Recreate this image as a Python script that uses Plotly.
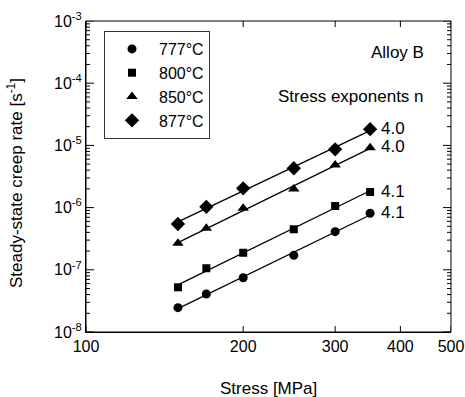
import numpy as np
import plotly.graph_objects as go

stress = [150, 170, 200, 250, 300, 350]
temps = ["777°C", "800°C", "850°C", "877°C"]
rate_777 = [2.46e-8, 4.08e-8, 7.46e-8, 1.71e-7, 4.10e-7, 8.1e-7]
rate_800 = [5.23e-8, 1.06e-7, 1.88e-7, 4.48e-7, 1.06e-6, 1.78e-6]
rate_850 = [2.67e-7, 4.65e-7, 9.75e-7, 1.99e-6, 4.84e-6, 9.2e-6]
rate_877 = [5.45e-7, 1.03e-6, 2.04e-6, 4.29e-6, 8.65e-6, 1.82e-5]
n_labels = ["4.1", "4.1", "4.0", "4.0"]
rates = [rate_777, rate_800, rate_850, rate_877]
symbols = ["circle", "square", "triangle-up", "diamond"]
msizes = [9, 8, 10, 11]

x_ticks = [100, 200, 300, 400, 500]
y_exps = [-8, -7, -6, -5, -4, -3]
minor_mult = [2, 3, 4, 5, 6, 7, 8, 9]

FONT = "Liberation Sans, Arial, sans-serif"
L, R, T, B = 86, 14, 21, 65
W, H = 465, 397
PW, PH = W - L - R, H - T - B


def px(x):
    return (x - L) / PW


def py(y):
    return (H - B - y) / PH


fig = go.Figure()

for r in rates:
    k, b = np.polyfit(np.log10(stress), np.log10(r), 1)
    xs = np.array([stress[0], stress[-1]])
    ys = 10 ** (b + k * np.log10(xs))
    fig.add_trace(go.Scatter(x=xs, y=ys, mode="lines", line=dict(color="black", width=1.3),
                             showlegend=False, hoverinfo="skip"))

for t, r, s, ms in zip(temps, rates, symbols, msizes):
    fig.add_trace(go.Scatter(x=stress, y=r, mode="markers", name=t,
                             marker=dict(symbol=s, size=ms, color="black")))

for r, lab in zip(rates, n_labels):
    fig.add_annotation(x=np.log10(stress[-1]), y=np.log10(r[-1]), text=lab, showarrow=False,
                       xanchor="left", xshift=9, yshift=1, font=dict(size=17, color="black", family=FONT))

fig.add_annotation(x=px(426), y=py(52), xref="paper", yref="paper", text="Alloy B",
                   showarrow=False, xanchor="right", yanchor="middle",
                   font=dict(size=17, color="black", family=FONT))
fig.add_annotation(x=px(276), y=py(96), xref="paper", yref="paper",
                   text="Stress exponents n", showarrow=False, xanchor="left", yanchor="middle",
                   font=dict(size=17, color="black", family=FONT))

fig.add_annotation(x=px(2), y=py(183), xref="paper", yref="paper",
                   text="Steady-state creep rate [s<sup>-1</sup>]",
                   textangle=-90, showarrow=False, xanchor="left", yanchor="middle",
                   font=dict(size=17, color="black", family=FONT))

fig.add_annotation(x=px(268), y=py(388), xref="paper", yref="paper", text="Stress [MPa]",
                   showarrow=False, xanchor="center", yanchor="middle",
                   font=dict(size=17, color="black", family=FONT))

# frame
fig.add_shape(type="rect", xref="paper", yref="paper", x0=0, x1=1, y0=0, y1=1,
              line=dict(color="black", width=1), layer="above")

TICK = dict(color="black", width=1)
major_y = [10.0 ** e for e in y_exps]
minor_y = [m * 10.0 ** e for e in range(-8, -3) for m in minor_mult]

# y ticks (left & right, inward), placed by the y scale
for v, ln in [(v, 8) for v in major_y] + [(v, 4) for v in minor_y]:
    fig.add_shape(type="line", xref="paper", yref="y", xsizemode="pixel", xanchor=0,
                  x0=0, x1=ln, y0=v, y1=v, line=TICK, layer="above")
    fig.add_shape(type="line", xref="paper", yref="y", xsizemode="pixel", xanchor=1,
                  x0=-ln, x1=0, y0=v, y1=v, line=TICK, layer="above")

# x ticks (bottom & top, inward), placed by the x scale
for v in x_ticks:
    fig.add_shape(type="line", xref="x", yref="paper", ysizemode="pixel", yanchor=0,
                  x0=v, x1=v, y0=0, y1=6, line=TICK, layer="above")
    fig.add_shape(type="line", xref="x", yref="paper", ysizemode="pixel", yanchor=1,
                  x0=v, x1=v, y0=-6, y1=0, line=TICK, layer="above")

fig.update_layout(
    xaxis=dict(type="log", range=[2, np.log10(500)], tickmode="array", tickvals=x_ticks,
               ticktext=[str(v) for v in x_ticks], ticks="", showline=True, linecolor="black",
               linewidth=1, showgrid=False, zeroline=False, automargin=False,
               tickfont=dict(size=16, color="black", family=FONT)),
    yaxis=dict(type="log", range=[-8, -3], tickmode="array", tickvals=major_y,
               ticktext=["10<sup>%d</sup>" % e for e in y_exps], ticks="", showline=True,
               linecolor="black", linewidth=1, showgrid=False, zeroline=False, automargin=False,
               tickfont=dict(size=16, color="black", family=FONT)),
    width=W, height=H, margin=dict(l=L, r=R, t=T, b=B, autoexpand=False),
    paper_bgcolor="white", plot_bgcolor="white",
    font=dict(family=FONT, color="black"),
    legend=dict(x=px(104), y=py(31), xanchor="left", yanchor="top",
                bordercolor="#333", borderwidth=1,
                bgcolor="white", font=dict(size=16, color="black", family=FONT),
                itemwidth=44, tracegroupgap=0))

fig.write_html("out.html")
